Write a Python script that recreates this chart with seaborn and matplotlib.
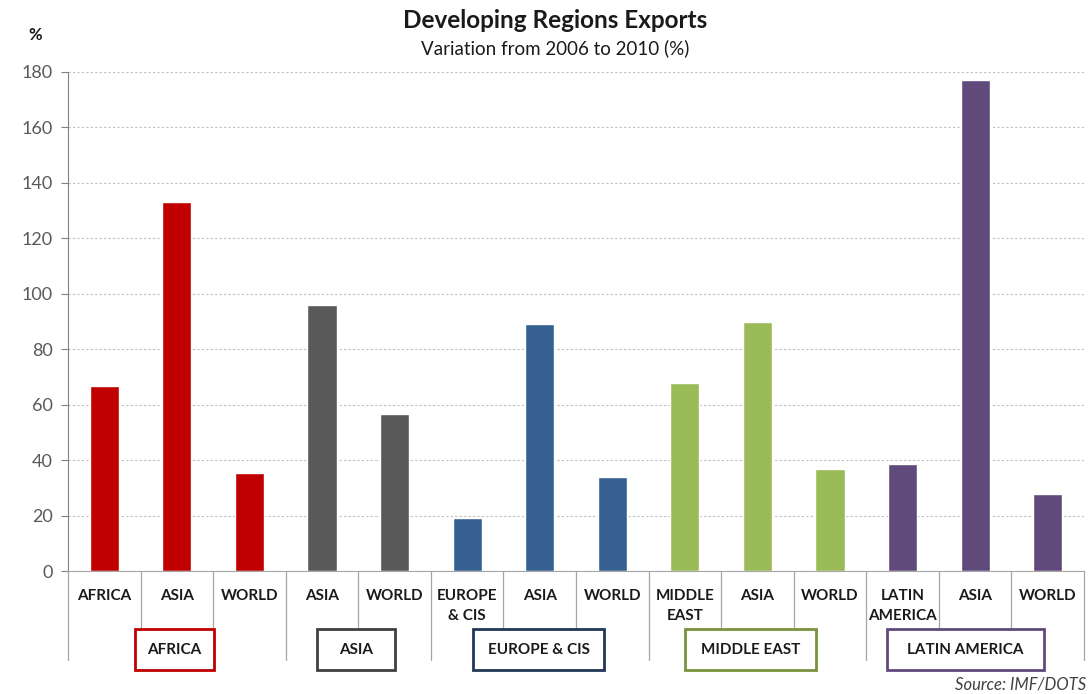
import matplotlib
matplotlib.use("Agg")
import matplotlib.pyplot as plt
import seaborn as sns
import pandas as pd
from matplotlib.patches import Rectangle

categories = ["AFRICA", "ASIA", "WORLD", "ASIA", "WORLD", "EUROPE\n& CIS", "ASIA", "WORLD",
              "MIDDLE\nEAST", "ASIA", "WORLD", "LATIN\nAMERICA", "ASIA", "WORLD"]
groups = ["AFRICA"] * 3 + ["ASIA"] * 2 + ["EUROPE & CIS"] * 3 + ["MIDDLE EAST"] * 3 + ["LATIN AMERICA"] * 3
values = [66.7, 133.1, 35.4, 96.0, 56.6, 19.1, 89.1, 33.9, 67.8, 89.8, 36.8, 38.6, 177.1, 27.8]
group_names = ["AFRICA", "ASIA", "EUROPE & CIS", "MIDDLE EAST", "LATIN AMERICA"]
bar_colors = ["#C00000", "#595959", "#376092", "#9BBB59", "#604A7B"]
box_colors = ["#C00000", "#404040", "#1F3857", "#77933C", "#604A7B"]
yticks = [0, 20, 40, 60, 80, 100, 120, 140, 160, 180]

sns.set_style("white")
plt.rcParams['font.family'] = ['Lato', 'DejaVu Sans']

df = pd.DataFrame({"pos": list(range(len(values))), "value": values, "group": groups})

W, H = 1090, 694
fig = plt.figure(figsize=(W / 100, H / 100), dpi=100)
ax = fig.add_axes([68 / W, 1 - 571 / H, (1084 - 68) / W, (571 - 72) / H])

sns.barplot(data=df, x="pos", y="value", hue="group", hue_order=group_names,
            palette=dict(zip(group_names, bar_colors)), dodge=False, width=0.4,
            saturation=1, legend=False, ax=ax)

ax.set_xlim(-0.5, len(values) - 0.5)
ax.set_ylim(0, 180)
ax.set_yticks(yticks)
ax.set_yticklabels([str(t) for t in yticks], fontsize=13, color="#595959")
ax.yaxis.grid(True, linestyle=(0, (2, 2)), color="#BFBFBF", linewidth=0.8)
ax.set_axisbelow(True)
ax.tick_params(axis="y", length=5, color="#808080", width=0.8, direction="out", pad=6, left=True)
ax.set_xticks(range(len(values)))
ax.set_xticklabels(categories, fontsize=11, fontweight="bold", color="#1a1a1a",
                   va="top", linespacing=1.55)
ax.tick_params(axis="x", length=0, pad=13)
ax.set_xlabel("")
ax.set_ylabel("")
for s in ["top", "right"]:
    ax.spines[s].set_visible(False)
ax.spines["left"].set_color("#808080")
ax.spines["bottom"].set_color("#A6A6A6")

# separators below axis
trans = ax.get_xaxis_transform()
group_bounds = {-0.5, 2.5, 4.5, 7.5, 10.5, 13.5}
for k in range(len(values) + 1):
    xb = k - 0.5
    y_end = (571 - 660) / 499 if xb in group_bounds else (571 - 628) / 499
    ax.plot([xb, xb], [0, y_end], transform=trans, color="#A6A6A6", lw=0.9, clip_on=False)

# group boxes (pixel layout)
box_x = [(135, 214), (317, 395), (473, 604), (685, 816), (887, 1044)]
for (x0, x1), name, c in zip(box_x, group_names, box_colors):
    r = Rectangle((x0 / W, 1 - 670 / H), (x1 - x0) / W, 41 / H, transform=fig.transFigure,
                  facecolor="white", edgecolor=c, linewidth=2, zorder=5)
    fig.add_artist(r)
    fig.text((x0 + x1) / 2 / W, 1 - 650 / H, name, ha="center", va="center",
             fontsize=11, fontweight="bold", color="#1a1a1a", zorder=6)

fig.text(555 / W, 1 - 21 / H, "Developing Regions Exports", ha="center", va="center",
         fontsize=17.5, fontweight="bold", color="#1a1a1a")
fig.text(555 / W, 1 - 48 / H, "Variation from 2006 to 2010 (%)", ha="center", va="center",
         fontsize=13.5, color="#1a1a1a")
fig.text(35 / W, 1 - 35 / H, "%", ha="center", va="center", fontsize=12,
         fontweight="bold", color="#1a1a1a")
fig.text(1086 / W, 1 - 684 / H, "Source: IMF/DOTS", ha="right", va="center",
         fontsize=12, style="italic", color="#404040")

fig.savefig("out.png", dpi=100)
